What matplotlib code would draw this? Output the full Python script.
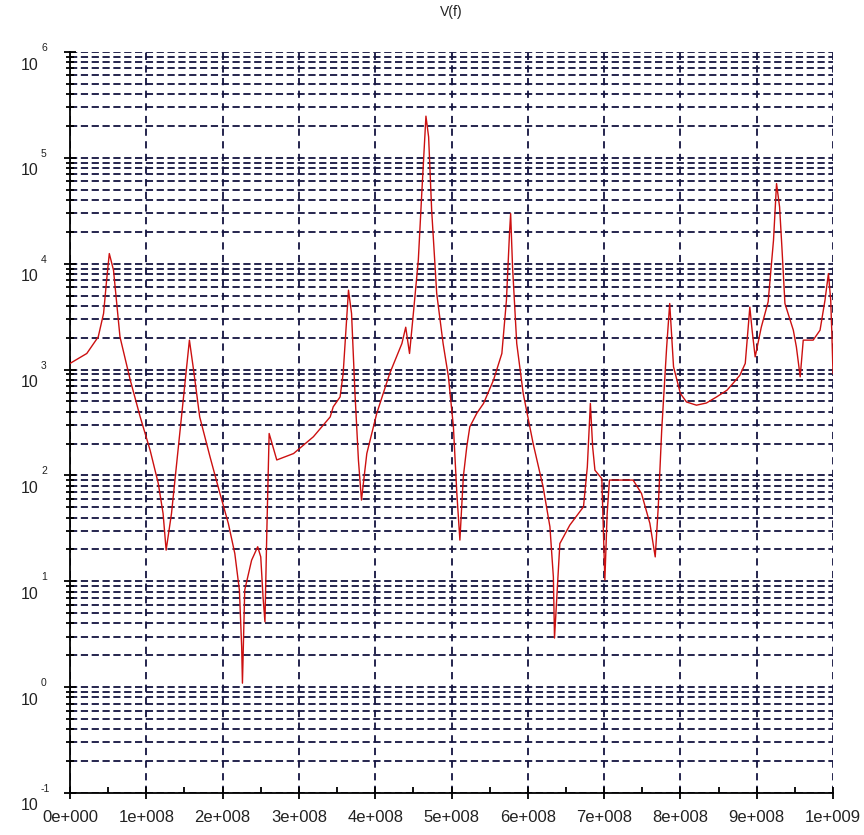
#!/usr/bin/env python3
import matplotlib.pyplot as plt
import numpy as np
from matplotlib.ticker import FuncFormatter, LogLocator, MultipleLocator, NullFormatter

plt.rcParams["font.family"] = ["Liberation Sans", "DejaVu Sans"]

# Frequency points, in units of 1e8 Hz
freq_e8 = [
    0.00, 0.22, 0.37, 0.44, 0.48, 0.515, 0.57, 0.655, 0.79, 0.92, 1.05,
    1.157, 1.22, 1.26, 1.33, 1.42, 1.51, 1.565, 1.62, 1.70, 1.835,
    1.965, 2.075, 2.16, 2.22, 2.25, 2.26, 2.29, 2.38, 2.46, 2.50,
    2.53, 2.555, 2.58, 2.61, 2.71, 2.93, 3.19, 3.41, 3.45, 3.54,
    3.58, 3.65, 3.69, 3.735, 3.78, 3.82, 3.89, 4.02, 4.19, 4.35,
    4.40, 4.45, 4.50, 4.565, 4.61, 4.665, 4.70, 4.74, 4.806, 4.89,
    4.96, 5.025, 5.07, 5.11, 5.155, 5.20, 5.24, 5.33, 5.42, 5.55, 5.66, 5.72,
    5.76, 5.775, 5.80, 5.855, 5.94, 6.07, 6.20, 6.29, 6.335, 6.35,
    6.42, 6.55, 6.73, 6.78, 6.82, 6.85, 6.88, 6.97, 7.01, 7.04,
    7.07, 7.38, 7.49, 7.60, 7.67, 7.71, 7.755, 7.82, 7.86, 7.91,
    8.00, 8.08, 8.21, 8.34, 8.475, 8.61, 8.69, 8.78, 8.85, 8.91, 8.94, 8.98, 9.06, 9.15,
    9.22, 9.26, 9.30, 9.33, 9.37, 9.48, 9.52, 9.57, 9.61, 9.74,
    9.83, 9.895, 9.94, 9.97, 9.985, 10.0,
]

# Magnitude V(f)
v_mag = [
    1143, 1419, 2037, 3388, 7000, 12470, 8710, 2037, 794, 357, 173,
    84, 43.6, 19.7, 43.6, 186, 794, 1897, 986, 357, 150,
    67.6, 35.2, 18.3, 8.26, 2.4, 1.09, 8.26, 15.8, 21.2, 17.0,
    7.08, 4.14, 30.4, 249, 140, 161, 232, 357, 445, 552,
    918, 5623, 3388, 594, 140, 58.5, 161, 385, 918, 1762,
    2512, 1419, 3388, 10790, 45710, 247700, 157800, 31990, 5248, 1762,
    853, 288, 67.6, 24.5, 97.1, 186, 288, 385, 479, 794, 1419, 4519,
    19280, 29790, 9333, 1762, 594, 200, 78.3, 32.7, 11.0, 2.91,
    22.7, 33.9, 50.6, 120, 479, 186, 112, 93.3, 10.3, 43.6,
    90.4, 90.4, 67.6, 35.2, 17.0, 50.6, 268, 1637, 4207, 1062,
    594, 494, 461, 483, 552, 638, 741, 885, 1143, 3890, 2344, 1318, 2512, 4365,
    16600, 57150, 34360, 14420, 4207, 2355, 1637, 853, 1897, 1897,
    2355, 4519, 8072, 4519, 2188, 918,
]

# decade exponents labelled on the y axis
y_exponents = [-1, 0, 1, 2, 3, 4, 5, 6]

freq = np.array(freq_e8) * 1e8


def sci_label(v, pos):
    # tick labels written like 1e+008
    if v <= 0:
        return "0e+000"
    exp = int(np.floor(np.log10(v) + 1e-9))
    return "%de+%03d" % (round(v / 10 ** exp), exp)


fig = plt.figure(figsize=(8.64, 8.35), dpi=100)
ax = fig.add_axes([70 / 864, 42 / 835, 763 / 864, 741 / 835])

ax.plot(freq, v_mag, color="#cc1010", linewidth=1.0, zorder=3)

ax.set_yscale("log")
ax.set_xlim(0, 1e9)
ax.set_ylim(0.1, 1e6)

ax.xaxis.set_major_locator(MultipleLocator(1e8))
ax.xaxis.set_minor_locator(MultipleLocator(0.5e8))
ax.xaxis.set_major_formatter(FuncFormatter(sci_label))

ax.yaxis.set_major_locator(LogLocator(base=10, numticks=20))
ax.yaxis.set_minor_locator(LogLocator(base=10, subs=np.arange(2, 10), numticks=20))
ax.yaxis.set_major_formatter(NullFormatter())
ax.yaxis.set_minor_formatter(NullFormatter())

# dashed grid, dark navy
ax.grid(True, which="both", axis="y", color="#141440", linewidth=1.3,
        linestyle=(0, (4, 2)))
ax.grid(True, which="major", axis="x", color="#141440", linewidth=1.3,
        linestyle=(0, (4, 3)))
ax.set_axisbelow(True)

for side in ["top", "right"]:
    ax.spines[side].set_visible(False)
ax.spines["left"].set_linewidth(1.3)
ax.spines["bottom"].set_linewidth(1.3)

ax.tick_params(axis="both", which="major", direction="inout", length=9,
               width=1.3, labelsize=12, labelcolor="#222222")
ax.tick_params(axis="y", which="minor", direction="inout", length=6, width=1.3)
ax.tick_params(axis="x", which="minor", direction="in", length=4, width=1.3)
ax.tick_params(axis="x", which="major", pad=8)

# y labels: "10" below the tick, exponent small and level with the tick
ytrans = ax.get_yaxis_transform()
for e in y_exponents:
    ax.annotate("10", xy=(0, 10.0 ** e), xycoords=ytrans,
                xytext=(-31, -13), textcoords="offset pixels",
                ha="right", va="center", fontsize=11.5, color="#222222",
                annotation_clip=False)
    ax.annotate(str(e), xy=(0, 10.0 ** e), xycoords=ytrans,
                xytext=(-29, 4), textcoords="offset pixels",
                ha="left", va="center", fontsize=7.5, color="#222222",
                annotation_clip=False)

ax.set_title("V(f)", fontsize=10, pad=26, color="#222222")

plt.savefig("out.png", dpi=100)
